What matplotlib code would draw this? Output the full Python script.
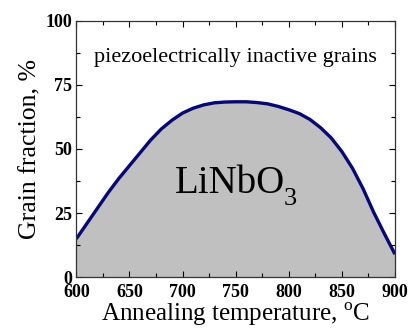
import matplotlib
matplotlib.use('Agg')
import matplotlib.pyplot as plt
from matplotlib.ticker import MultipleLocator

plt.rcParams['font.family'] = ['Liberation Serif', 'DejaVu Serif']
plt.rcParams['mathtext.fontset'] = 'custom'
plt.rcParams['mathtext.rm'] = 'Liberation Serif'

# annealing temperature (C) and LiNbO3 grain fraction (%)
temperature = [600, 610, 620, 630, 640, 650, 660, 670, 680, 690, 700,
               710, 720, 730, 740, 750, 760, 770, 780, 790, 800,
               810, 820, 830, 840, 850, 860, 870, 880, 890, 900]
fraction = [15.0, 21.0, 27.0, 33.0, 38.5, 43.5, 48.5, 53.5, 57.8, 61.2, 64.0,
            65.9, 67.2, 68.0, 68.3, 68.4, 68.4, 68.1, 67.6, 66.6, 65.3,
            63.8, 61.5, 58.3, 54.3, 49.0, 42.5, 34.5, 25.3, 17.0, 9.0]
xticks = [600, 650, 700, 750, 800, 850, 900]
yticks = [0, 25, 50, 75, 100]

fig = plt.figure(figsize=(4.11, 3.31), dpi=100)
ax = fig.add_axes([0.1857, 0.1622, 0.7753, 0.7753])

ax.fill_between(temperature, 0, fraction, color='#c0c0c0', lw=0)
ax.plot(temperature, fraction, color='#06067f', lw=2.4, solid_capstyle='butt')

ax.set_xlim(600, 900)
ax.set_ylim(0, 100)
ax.set_xticks(xticks)
ax.set_yticks(yticks)
ax.xaxis.set_minor_locator(MultipleLocator(25))
ax.yaxis.set_minor_locator(MultipleLocator(12.5))
ax.tick_params(which='both', direction='in', top=True, right=True, width=0.8)
ax.tick_params(which='major', length=4, labelsize=13)
ax.tick_params(which='minor', length=3)
ax.tick_params(axis='x', which='major', pad=5)
ax.tick_params(axis='y', which='major', pad=3)
for lab in ax.get_xticklabels() + ax.get_yticklabels():
    lab.set_fontweight('bold')
for sp in ax.spines.values():
    sp.set_linewidth(0.9)
    sp.set_color('#333333')

ax.set_xlabel(r'Annealing temperature, $^\mathregular{o}$C', fontsize=18, labelpad=0)
ax.set_ylabel('Grain fraction, %', fontsize=18.5, labelpad=3)

ax.text(750, 85.5, 'piezoelectrically inactive grains', fontsize=16,
        ha='center', va='center')
ax.text(692.9, 32.9, 'LiNbO', fontsize=28, ha='left', va='baseline')
ax.text(795.5, 28.2, '3', fontsize=19, ha='left', va='baseline')

fig.savefig('out.png', dpi=100)
